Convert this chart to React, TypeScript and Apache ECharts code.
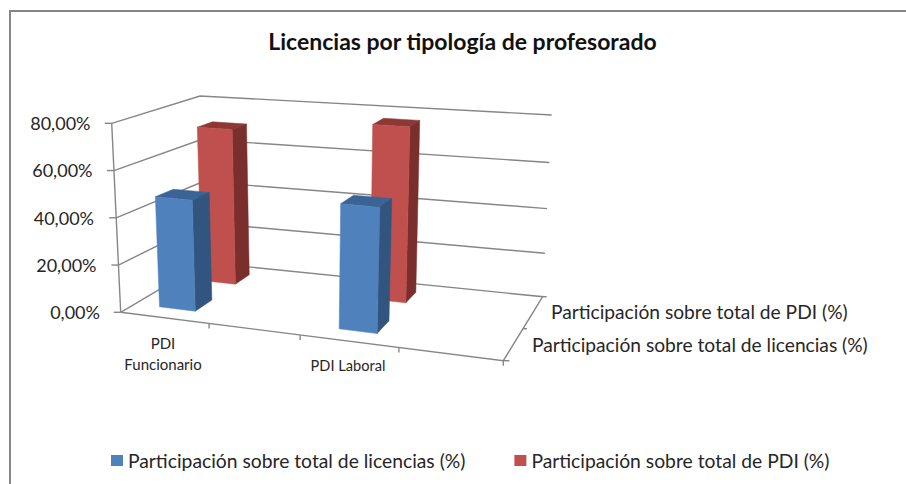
import React, { useEffect, useRef } from "react";
import * as echarts from "echarts";

const titleText = "Licencias por tipología de profesorado";
const categories = ["PDI\nFuncionario", "PDI Laboral"];
const seriesNames = ["Participación sobre total de licencias (%)", "Participación sobre total de PDI (%)"];
const licencias = [47.5, 51.7];
const pdi = [70.6, 76.8];
const yTicks = [0, 20, 40, 60, 80];

const FONT = "Lato";
const TEXT = "#262626";
const AXIS = "#868686";
const GRID = { left: 70.5, top: 123, width: 370, height: 189 };

// Corners of the 3D box, in pixels: u along categories, v in depth, w in height
const FLB = [120.7, 312.3], FRB = [503.3, 360.7], BLB = [205, 262.5], BRB = [542.7, 296.7];
const FLT = [111.7, 123.3], FRT = [515, 154.7], BLT = [200, 96], BRT = [551.7, 115];
const mix = (a: number[], b: number[], t: number) => [a[0] + (b[0] - a[0]) * t, a[1] + (b[1] - a[1]) * t];
const project = (u: number, v: number, w0: number) => {
  const w = w0 - 0.06 * v * w0 * (1 - w0); // vertical perspective foreshortening towards the back
  return mix(mix(mix(FLB, FRB, u), mix(BLB, BRB, u), v), mix(mix(FLT, FRT, u), mix(BLT, BRT, u), v), w);
};

const uFromPx = (x: number) => 0.113 + ((x - 163) * 0.482) / 185;
const wFromPx = (y: number) => (GRID.top + GRID.height - y) / GRID.height;

const barRenderer = (v0: number, v1: number, front: string, side: string, top: string) => (params: any, api: any) => {
  const c = api.coord([api.value(0), api.value(1)]);
  const u = uFromPx(c[0]);
  const w = wFromPx(c[1]);
  const half = 0.047 + 0.006 * u;
  const u0 = u - half, u1 = u + half;
  const poly = (pts: number[][], fill: string) => ({ type: "polygon", shape: { points: pts }, style: { fill, stroke: fill, lineWidth: 0.5 } });
  return {
    type: "group",
    children: [
      poly([project(u0, v0, w), project(u1, v0, w), project(u1, v1, w), project(u0, v1, w)], top),
      poly([project(u1, v0, 0), project(u1, v1, 0), project(u1, v1, w), project(u1, v0, w)], side),
      poly([project(u0, v0, 0), project(u1, v0, 0), project(u1, v0, w), project(u0, v0, w)], front),
    ],
  };
};

const line = (a: number[], b: number[], lineWidth = 1.4, stroke = AXIS) => ({
  type: "line",
  shape: { x1: a[0], y1: a[1], x2: b[0], y2: b[1] },
  style: { stroke, lineWidth },
});

const wallsRenderer = (params: any, api: any) => {
  const value = api.value(0);
  const w = wFromPx(api.coord([0, value])[1]);
  const a = project(0, 0, w);
  const children: any[] = [line([a[0] - 7, a[1]], a)];
  if (value > 0) {
    children.push({ type: "polyline", shape: { points: [a, project(0, 1, w), project(1, 1, w)] }, style: { stroke: AXIS, lineWidth: 1.4, fill: "none" } });
  }
  return { type: "group", children };
};

const floorTicks = [0.231, 0.469, 0.727];
const floorRenderer = () => {
  const corners = [project(0, 0, 0), project(1, 0, 0), project(1, 1, 0), project(0, 1, 0), project(0, 0, 0)];
  const children: any[] = [
    { type: "polyline", shape: { points: corners }, style: { stroke: AXIS, lineWidth: 1.4, fill: "none" } },
    line(project(0, 0, 0), project(0, 0, 1)),
  ];
  floorTicks.forEach((u) => {
    const p = project(u, 0, 0);
    children.push(line(p, [p[0], p[1] + 5]));
  });
  const fr = project(1, 0, 0), mid = project(1, 0.5, 0), br = project(1, 1, 0);
  children.push(line(fr, [fr[0], fr[1] + 5]), line(fr, [fr[0] + 6, fr[1]]), line(mid, [mid[0] + 4, mid[1]]), line(br, [br[0] + 4, br[1]]));
  return { type: "group", children };
};

const pad: Record<number, number> = { 80: 9.5, 60: 7.5, 40: 6, 20: 3.5, 0: 0 };
const depthText = (text: string, x: number, y: number) => ({
  type: "text",
  x,
  y,
  style: { text, font: `19.2px ${FONT}`, fill: TEXT, textVerticalAlign: "middle" },
});

export default function App() {
  const ref = useRef<HTMLDivElement>(null);
  useEffect(() => {
    document.body.style.margin = "0";
    const chart = echarts.init(ref.current!, undefined, { renderer: "svg" });
    chart.setOption({
      animation: false,
      backgroundColor: "#fff",
      title: {
        text: titleText,
        left: 457.5,
        top: 24,
        textAlign: "center",
        textStyle: { fontFamily: FONT, fontSize: 23, fontWeight: "bold", color: "#111" },
      },
      legend: {
        left: 106,
        top: 446,
        icon: "rect",
        itemWidth: 12,
        itemHeight: 11,
        itemGap: 49,
        selectedMode: false,
        data: seriesNames,
        textStyle: { fontFamily: FONT, fontSize: 19.3, color: TEXT },
      },
      grid: { ...GRID, containLabel: false },
      xAxis: {
        type: "category",
        data: [
          { value: categories[0] },
          { value: categories[1], textStyle: { padding: [23, 0, 0, 0], fontSize: 14.6 } },
        ],
        axisLine: { show: false },
        axisTick: { show: false },
        axisLabel: { margin: 20, fontFamily: FONT, fontSize: 15, lineHeight: 21, color: TEXT },
      },
      yAxis: {
        type: "value",
        min: 0,
        max: 80,
        interval: 20,
        offset: -29.5,
        splitLine: { show: false },
        axisLine: { show: false },
        axisTick: { show: false },
        axisLabel: {
          margin: 0,
          formatter: (v: number) => `{t${v}|${v.toFixed(2).replace(".", ",")}%}`,
          rich: Object.fromEntries(
            yTicks.map((t) => [`t${t}`, { fontFamily: FONT, fontSize: 18, color: TEXT, padding: [0, pad[t], 0, 0] }])
          ),
        },
      },
      graphic: [
        { type: "line", shape: { x1: 9, y1: 11, x2: 906, y2: 11 }, style: { stroke: AXIS, lineWidth: 2 } },
        { type: "line", shape: { x1: 10, y1: 10, x2: 10, y2: 484 }, style: { stroke: AXIS, lineWidth: 2 } },
        depthText(seriesNames[1], 551, 311),
        depthText(seriesNames[0], 532, 344),
      ],
      series: [
        { type: "custom", name: "walls", z: 1, silent: true, data: yTicks.map((t) => [t]), renderItem: wallsRenderer, encode: { y: 0 } },
        { type: "custom", name: "floor", z: 1, silent: true, data: [[0]], renderItem: floorRenderer },
        {
          type: "custom",
          name: seriesNames[1],
          z: 2,
          itemStyle: { color: "#C0504D" },
          data: pdi.map((v, i) => [i, v]),
          encode: { x: 0, y: 1 },
          renderItem: barRenderer(0.69, 0.87, "#C0504D", "#7B2F2D", "#8E3835"),
        },
        {
          type: "custom",
          name: seriesNames[0],
          z: 3,
          itemStyle: { color: "#4F81BD" },
          data: licencias.map((v, i) => [i, v]),
          encode: { x: 0, y: 1 },
          renderItem: barRenderer(0.17, 0.385, "#4F81BD", "#31557F", "#3A6496"),
        },
      ],
    });
    return () => chart.dispose();
  }, []);
  return <div ref={ref} style={{ width: 906, height: 484 }} />;
}
